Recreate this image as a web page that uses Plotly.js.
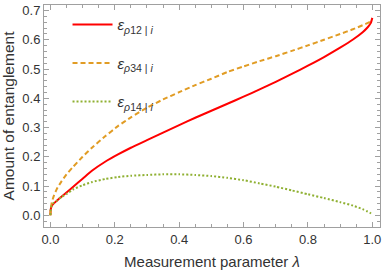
<!DOCTYPE html>
<html>
<head>
<meta charset="utf-8">
<script src="https://cdn.plot.ly/plotly-3.0.1.min.js"></script>
<style>html,body{margin:0;padding:0;background:#fff;}#chart{width:382px;height:273px;}</style>
</head>
<body>
<div id="chart"></div>
<script>
// Measurement parameter lambda
const lambda = [0, 0.001, 0.004, 0.01, 0.02, 0.035, 0.05, 0.07, 0.1, 0.13, 0.17, 0.21, 0.25, 0.3, 0.35, 0.4, 0.45, 0.5, 0.55, 0.6, 0.65, 0.7, 0.75, 0.8, 0.85, 0.9, 0.94, 0.97, 0.985, 0.995, 1.0];
// Entanglement series
const eps12 = [0, 0.020, 0.032, 0.040, 0.050, 0.064, 0.078, 0.097, 0.125, 0.153, 0.183, 0.208, 0.231, 0.257, 0.283, 0.3085, 0.3335, 0.3575, 0.3815, 0.4055, 0.4305, 0.4565, 0.4835, 0.5115, 0.541, 0.573, 0.601, 0.626, 0.642, 0.657, 0.675];
const eps34 = [0, 0.020, 0.042, 0.065, 0.090, 0.117, 0.140, 0.165, 0.200, 0.232, 0.270, 0.305, 0.335, 0.368, 0.396, 0.421, 0.445, 0.467, 0.490, 0.509, 0.527, 0.544, 0.562, 0.581, 0.600, 0.620, 0.636, 0.650, 0.657, 0.663, 0.667];
const eps14 = [0, 0.020, 0.033, 0.042, 0.050, 0.063, 0.073, 0.088, 0.103, 0.114, 0.124, 0.131, 0.135, 0.138, 0.140, 0.140, 0.138, 0.134, 0.128, 0.120, 0.109, 0.098, 0.085, 0.072, 0.059, 0.045, 0.033, 0.021, 0.013, 0.007, 0.003];
// Legend labels
const names = [
  "<i>ε</i><sub><i>ρ</i>12 | <i>i</i></sub>",
  "<i>ε</i><sub><i>ρ</i>34 | <i>i</i></sub>",
  "<i>ε</i><sub><i>ρ</i>14 | <i>i</i></sub>"
];
const tickVals = [0, 0.2, 0.4, 0.6, 0.8, 1.0];
const yTickVals = [0, 0.1, 0.2, 0.3, 0.4, 0.5, 0.6, 0.7];

const FONT = "Liberation Sans, Arial, sans-serif";
const traces = [
  {x: lambda, y: eps12, name: names[0], legendgroup: "a", mode: "lines",
   line: {color: "#FF0000", width: 2, shape: "spline", smoothing: 0.5}},
  {x: lambda, y: eps34, name: names[1], legendgroup: "b", mode: "lines",
   line: {color: "#E19C24", width: 2, dash: "5px,3px", shape: "spline", smoothing: 0.5}},
  {x: lambda, y: eps14, name: names[2], legendgroup: "c", mode: "lines",
   line: {color: "#8FB032", width: 2, dash: "2px,2px", shape: "spline", smoothing: 0.5}}
];
const axisCommon = {
  showgrid: false, zeroline: false, showline: true, linecolor: "#A0A0A0", linewidth: 1,
  mirror: "ticks", ticks: "inside", ticklen: 5, tickcolor: "#A0A0A0", tickwidth: 1,
  tickfont: {family: FONT, size: 13, color: "#333"}
};
const layout = {
  width: 382, height: 273,
  margin: {l: 44, r: 2, t: 5, b: 46},
  paper_bgcolor: "#fff", plot_bgcolor: "#fff",
  showlegend: true,
  legend: {x: 0.07, y: 0.985, xanchor: "left", yanchor: "top", bgcolor: "rgba(0,0,0,0)",
           font: {family: FONT, size: 15, color: "#333"}, tracegroupgap: 16, itemwidth: 40},
  xaxis: Object.assign({}, axisCommon, {
    range: [-0.0199, 1.0239], tickvals: tickVals, ticktext: tickVals.map(v => v.toFixed(1)),
    minor: {dtick: 0.05, ticks: "inside", ticklen: 3, tickcolor: "#A0A0A0", showgrid: false},
    title: {text: "Measurement parameter <i>λ</i>", font: {family: FONT, size: 15, color: "#333"}, standoff: 10}
  }),
  yaxis: Object.assign({}, axisCommon, {
    range: [-0.040, 0.719], tickvals: yTickVals, ticktext: yTickVals.map(v => v.toFixed(1)),
    minor: {dtick: 0.02, ticks: "inside", ticklen: 3, tickcolor: "#A0A0A0", showgrid: false},
    title: {text: "Amount of entanglement", font: {family: FONT, size: 15.5, color: "#333"}, standoff: 6}
  })
};
Plotly.newPlot("chart", traces, layout, {staticPlot: true, displayModeBar: false});
</script>
</body>
</html>
